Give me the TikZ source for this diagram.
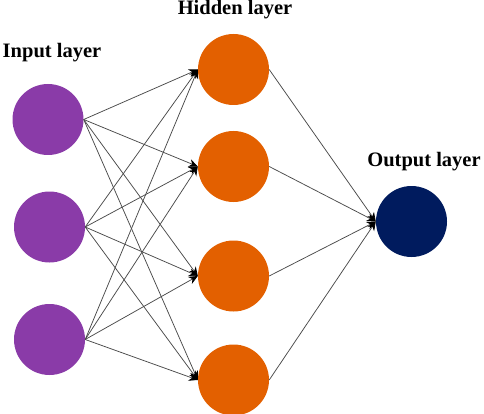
\documentclass[tikz,border=0pt]{standalone}
\usepackage{fontspec}
\setmainfont{Liberation Serif}
\usepackage{xcolor}
\usetikzlibrary{arrows.meta}

\definecolor{inputcol}{HTML}{8A3BA8}
\definecolor{hiddencol}{HTML}{E36000}
\definecolor{outputcol}{HTML}{001B5E}
\definecolor{edgecol}{HTML}{4A4A4A}

\begin{document}
\begin{tikzpicture}[x=1pt,y=-1pt,>={Stealth[length=9pt,width=8pt,color=black]},
	neuron/.style={circle,draw=none,inner sep=0pt,minimum size=71pt},
	layerlabel/.style={font=\fontsize{20.5}{24}\selectfont\bfseries},
	link/.style={->,draw=edgecol,line width=0.75pt}]
		\useasboundingbox (0,0) rectangle (484,414);

		\node[layerlabel] (lin)  at (52,53)  {Input layer};
		\node[layerlabel] (lhid) at (235,10) {Hidden layer};
		\node[layerlabel] (lout) at (424,162) {Output layer};

		\node[neuron,fill=inputcol] (i1) at (48,119.5) {};
		\node[neuron,fill=inputcol] (i2) at (49.5,227) {};
		\node[neuron,fill=inputcol] (i3) at (49.5,339.5) {};

		\node[neuron,fill=hiddencol] (h1) at (233.5,69.5) {};
		\node[neuron,fill=hiddencol] (h2) at (233.5,166.5) {};
		\node[neuron,fill=hiddencol] (h3) at (233.5,276) {};
		\node[neuron,fill=hiddencol] (h4) at (233.5,380) {};

		\node[neuron,fill=outputcol] (o1) at (411.5,221.5) {};

		\foreach \i in {1,2,3}
			\foreach \j in {1,...,4}
				\draw[link] (i\i.east) -- (h\j.west);
		\foreach \j in {1,...,4}
			\draw[link] (h\j.east) -- (o1.west);
	\end{tikzpicture}
\end{document}
